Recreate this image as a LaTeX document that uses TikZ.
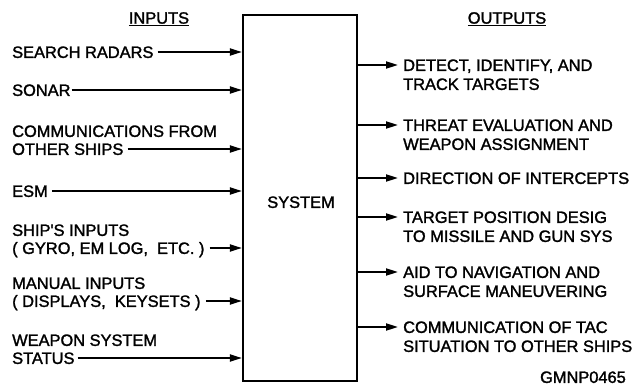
\documentclass[tikz,border=0pt]{standalone}
\usepackage{fontspec}
\setmainfont{Liberation Sans}
\newfontfamily\labfont[FakeBold=1.6]{Liberation Sans}
\usetikzlibrary{arrows.meta}
\tikzset{
  lab/.style={inner sep=0pt, text height=11.8pt, text depth=0pt, font=\labfont\fontsize{16.4}{19}\selectfont},
  head/.style={inner sep=0pt, font=\labfont\fontsize{16.4}{19}\selectfont},
  arr/.style={line width=1.9pt, -{Triangle[length=12pt,width=7pt]}},
  sysbox/.style={draw, line width=2.2pt, inner sep=0pt}
}
\begin{document}
\begin{tikzpicture}[x=1pt,y=-1pt]
\useasboundingbox (0,0) rectangle (639,385);
% system box
\node[sysbox, minimum width=114pt, minimum height=366pt] (box) at (300,198) {};
\node[lab] (sys) at (301,202) {SYSTEM};
% headers
\node[head] (inh) at (159,19) {\underline{INPUTS}};
\node[head] (outh) at (507,19) {\underline{OUTPUTS}};
% inputs
\node[lab, anchor=west] (in1) at (12,52) {SEARCH RADARS};
\node[lab, anchor=west] (in2) at (12,90) {SONAR};
\node[lab, anchor=west] (in3a) at (12,131) {COMMUNICATIONS FROM};
\node[lab, anchor=west] (in3) at (12,149) {OTHER SHIPS};
\node[lab, anchor=west] (in4) at (12,191) {ESM};
\node[lab, anchor=west] (in5a) at (12,230) {SHIP'S INPUTS};
\node[lab, anchor=west] (in5) at (12,248) {( GYRO, EM LOG,\ \ ETC. )};
\node[lab, anchor=west] (in6a) at (12,283) {MANUAL INPUTS};
\node[lab, anchor=west] (in6) at (12,301) {( DISPLAYS,\ \ KEYSETS )};
\node[lab, anchor=west] (in7a) at (12,340) {WEAPON SYSTEM};
\node[lab, anchor=west] (in7) at (12,358) {STATUS};
\foreach \n/\g in {in1/4,in2/1,in3/4,in4/4,in5/5,in6/5,in7/3}
  \draw[arr] ([xshift=\g pt]\n.east) -- (\n.east -| box.west);
% outputs
\node[lab, anchor=west] (out1) at (403,65) {DETECT, IDENTIFY, AND};
\node[lab, anchor=west] (out1b) at (403,84) {TRACK TARGETS};
\node[lab, anchor=west] (out2) at (403,125) {THREAT EVALUATION AND};
\node[lab, anchor=west] (out2b) at (403,144) {WEAPON ASSIGNMENT};
\node[lab, anchor=west] (out3) at (403,178) {DIRECTION OF INTERCEPTS};
\node[lab, anchor=west] (out4) at (403,217) {TARGET POSITION DESIG};
\node[lab, anchor=west] (out4b) at (403,236) {TO MISSILE AND GUN SYS};
\node[lab, anchor=west] (out5) at (403,272) {AID TO NAVIGATION AND};
\node[lab, anchor=west] (out5b) at (403,291) {SURFACE MANEUVERING};
\node[lab, anchor=west] (out6) at (403,327) {COMMUNICATION OF TAC};
\node[lab, anchor=west] (out6b) at (403,346) {SITUATION TO OTHER SHIPS};
\foreach \n in {out1,out2,out3,out4,out5,out6}
  \draw[arr] (\n.west -| box.east) -- ([xshift=-5pt]\n.west);
% figure id
\node[lab, anchor=east] (fig) at (626,377) {GMNP0465};
\end{tikzpicture}
\end{document}
